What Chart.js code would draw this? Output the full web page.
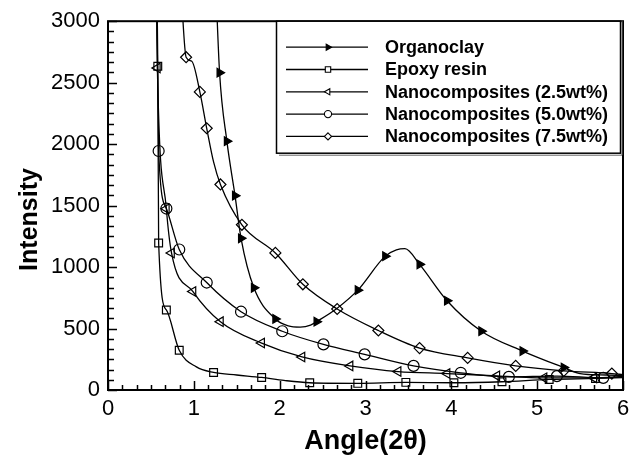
<!DOCTYPE html>
<html>
<head>
<meta charset="utf-8">
<script src="https://cdn.jsdelivr.net/npm/chart.js@4.4.1/dist/chart.umd.min.js"></script>
<style>
  html, body { margin: 0; padding: 0; background: #fff; }
</style>
</head>
<body>
<canvas id="chart" width="638" height="460"></canvas>
<script>
// values: [angle, intensity]
var seriesNames = ['Organoclay', 'Epoxy resin', 'Nanocomposites (2.5wt%)', 'Nanocomposites (5.0wt%)', 'Nanocomposites (7.5wt%)'];
var xTicks = [0, 1, 2, 3, 4, 5, 6];
var yTicks = [0, 500, 1000, 1500, 2000, 2500, 3000];

// points that carry a marker
var organoclayMarks = [[1.30,2581],[1.385,2024],[1.48,1581],[1.55,1234],[1.70,831],[1.95,578],[2.43,556],[2.91,812],[3.23,1089],[3.63,1022],[3.95,726],[4.35,478],[4.83,317],[5.31,183]];
var epoxyMarks = [[0.58,2634],[0.59,1196],[0.68,651],[0.83,323],[1.23,143],[1.79,102],[2.35,59],[2.91,54],[3.47,62],[4.03,59],[4.59,67],[5.14,86],[5.68,94]];
var nano25Marks = [[0.575,2620],[0.68,1474],[0.74,1115],[0.99,801],[1.31,556],[1.79,382],[2.26,269],[2.82,196],[3.38,150],[3.95,134],[4.53,115],[5.08,99],[5.66,99]];
var nano50Marks = [[0.59,1944],[0.68,1476],[0.83,1143],[1.15,874],[1.55,637],[2.03,478],[2.51,371],[2.99,290],[3.56,196],[4.11,140],[4.67,107],[5.23,113],[5.77,99]];
var nano75Marks = [[0.91,2707],[1.07,2425],[1.15,2129],[1.31,1672],[1.56,1344],[1.95,1115],[2.27,860],[2.67,659],[3.15,484],[3.63,341],[4.19,261],[4.75,196],[5.31,156],[5.87,134]];

// extra curve points between markers
var organoclayExtra = [[1.25,3400],[2.10,522],[2.24,512],[2.36,528],[2.67,665],[3.36,1140],[3.46,1150],[5.50,134],[5.80,122],[6.00,118]];
var epoxyExtra = [[0.57,3300],[1.03,188],[1.50,122],[2.05,78],[6.00,100]];
var nano25Extra = [[0.56,3400],[6.00,110]];
var nano50Extra = [[0.565,3400],[6.00,108]];
var nano75Extra = [[0.84,3400],[0.976,2674],[1.23,1855],[6.00,125]];

function toPts(arr) {
  return arr.map(function (p) { return { x: p[0], y: p[1] }; });
}
function curve(marks, extra) {
  return toPts(marks.concat(extra)).sort(function (a, b) { return a.x - b.x; });
}

var styles = [
  { pointStyle: 'triangle', rotation: 90, fill: '#000', radius: 5 },
  { pointStyle: 'rect', rotation: 0, fill: 'rgba(0,0,0,0)', radius: 5.5 },
  { pointStyle: 'triangle', rotation: -90, fill: 'rgba(0,0,0,0)', radius: 5.5 },
  { pointStyle: 'circle', rotation: 0, fill: 'rgba(0,0,0,0)', radius: 5.5 },
  { pointStyle: 'rectRot', rotation: 0, fill: 'rgba(0,0,0,0)', radius: 5.5 }
];
var allMarks = [organoclayMarks, epoxyMarks, nano25Marks, nano50Marks, nano75Marks];
var allExtra = [organoclayExtra, epoxyExtra, nano25Extra, nano50Extra, nano75Extra];

var datasets = [];
allMarks.forEach(function (m, i) {
  datasets.push({
    label: seriesNames[i] + ' marks',
    data: toPts(m),
    showLine: false,
    pointStyle: styles[i].pointStyle,
    rotation: styles[i].rotation,
    pointRadius: styles[i].radius,
    pointBackgroundColor: styles[i].fill,
    pointBorderColor: '#000',
    pointBorderWidth: 1.2,
    order: 0
  });
  datasets.push({
    label: seriesNames[i],
    data: curve(m, allExtra[i]),
    showLine: true,
    borderColor: '#000',
    borderWidth: 1.3,
    pointRadius: 0,
    cubicInterpolationMode: 'monotone',
    order: 1
  });
});

function drawMark(ctx, style, x, y, r) {
  ctx.save();
  ctx.translate(x, y);
  ctx.rotate(style.rotation * Math.PI / 180);
  ctx.beginPath();
  if (style.pointStyle === 'circle') {
    ctx.arc(0, 0, r, 0, Math.PI * 2);
  } else if (style.pointStyle === 'rect') {
    ctx.rect(-r * 0.75, -r * 0.75, r * 1.5, r * 1.5);
  } else if (style.pointStyle === 'rectRot') {
    ctx.moveTo(0, -r); ctx.lineTo(r, 0); ctx.lineTo(0, r); ctx.lineTo(-r, 0); ctx.closePath();
  } else {
    for (var k = 0; k < 3; k++) {
      var a = k * 2 * Math.PI / 3;
      if (k === 0) ctx.moveTo(Math.sin(a) * r, -Math.cos(a) * r);
      else ctx.lineTo(Math.sin(a) * r, -Math.cos(a) * r);
    }
    ctx.closePath();
  }
  ctx.fillStyle = style.fill === '#000' ? '#000' : '#fff';
  ctx.fill();
  ctx.lineWidth = 1.1;
  ctx.strokeStyle = '#000';
  ctx.stroke();
  ctx.restore();
}

var framePlugin = {
  id: 'frame',
  afterDatasetsDraw: function (chart) {
    var ctx = chart.ctx, a = chart.chartArea;
    var xs = chart.scales.x, ys = chart.scales.y;
    ctx.save();
    ctx.strokeStyle = '#000';
    ctx.lineWidth = 2;
    ctx.strokeRect(a.left, a.top, a.right - a.left, a.bottom - a.top);
    ctx.lineWidth = 1.5;
    ctx.beginPath();
    var i, v, p, len;
    for (i = 0; i <= 36; i++) {
      v = i / 6;
      p = Math.round(xs.getPixelForValue(v)) + 0.5;
      len = i % 6 === 0 ? 9 : 5;
      ctx.moveTo(p, a.bottom); ctx.lineTo(p, a.bottom - len);
    }
    for (i = 0; i <= 36; i++) {
      v = i * 500 / 6;
      p = Math.round(ys.getPixelForValue(v)) + 0.5;
      len = i % 6 === 0 ? 9 : 6;
      ctx.moveTo(a.left, p); ctx.lineTo(a.left + len, p);
    }
    ctx.stroke();

    // legend
    var bx = 276, by = a.top, bw = 344, bh = 132;
    ctx.fillStyle = '#fff';
    ctx.fillRect(bx, by, bw, bh);
    ctx.lineWidth = 1.5;
    ctx.strokeRect(bx + 0.5, by, bw, bh);
    ctx.beginPath();
    ctx.moveTo(bx + 3, by + bh + 2); ctx.lineTo(bx + bw + 2, by + bh + 2); ctx.lineTo(bx + bw + 2, by);
    ctx.lineWidth = 1;
    ctx.strokeStyle = '#666';
    ctx.stroke();
    ctx.strokeStyle = '#000';
    ctx.font = 'bold 18px "Liberation Sans", Arial, sans-serif';
    ctx.textBaseline = 'middle';
    ctx.textAlign = 'left';
    for (i = 0; i < seriesNames.length; i++) {
      var ly = by + 26 + i * 22.3;
      ctx.beginPath();
      ctx.moveTo(286, ly); ctx.lineTo(368, ly);
      ctx.lineWidth = 1.3;
      ctx.stroke();
      drawMark(ctx, styles[i], 328, ly, 3.6);
      ctx.fillStyle = '#000';
      ctx.fillText(seriesNames[i], 385, ly + 1);
    }
    ctx.restore();
  }
};

var tickFont = { family: '"Liberation Sans", Arial, sans-serif', size: 22 };
var titleFont = { family: '"Liberation Sans", Arial, sans-serif', size: 25, weight: 'bold' };
var xTitleFont = { family: '"Liberation Sans", Arial, sans-serif', size: 27, weight: 'bold' };

new Chart(document.getElementById('chart'), {
  type: 'scatter',
  data: { datasets: datasets },
  options: {
    responsive: false,
    animation: false,
    devicePixelRatio: 1,
    layout: { padding: { top: 18, right: 15, left: 0, bottom: 0 } },
    plugins: { legend: { display: false }, tooltip: { enabled: false } },
    scales: {
      x: {
        type: 'linear', min: 0, max: 6,
        afterBuildTicks: function (s) { s.ticks = xTicks.map(function (v) { return { value: v }; }); },
        afterFit: function (s) { s.height = 70; },
        ticks: { font: tickFont, color: '#000', padding: 6, maxRotation: 0, callback: function (v) { return String(v); } },
        grid: { display: false, drawTicks: false },
        border: { display: false },
        title: { display: true, text: 'Angle(2θ)', font: xTitleFont, color: '#000', padding: { top: 0, bottom: 2 } }
      },
      y: {
        type: 'linear', min: 0, max: 3000,
        afterBuildTicks: function (s) { s.ticks = yTicks.map(function (v) { return { value: v }; }); },
        afterFit: function (s) { s.width = 108; },
        ticks: { font: tickFont, color: '#000', padding: 8, callback: function (v) { return String(v); } },
        grid: { display: false, drawTicks: false },
        border: { display: false },
        title: { display: true, text: 'Intensity    ', font: titleFont, color: '#000', padding: { top: 15, bottom: 0 } }
      }
    }
  },
  plugins: [framePlugin]
});
</script>
</body>
</html>
